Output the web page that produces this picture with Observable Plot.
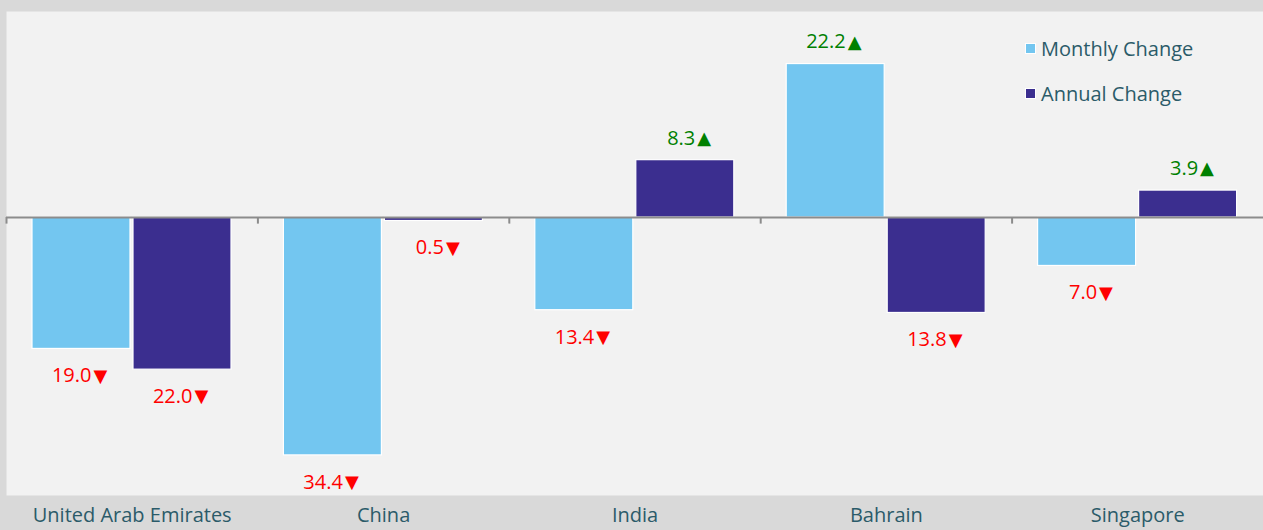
<!DOCTYPE html>
<html>
<head>
<meta charset="utf-8">
<script src="https://cdn.jsdelivr.net/npm/d3@7"></script>
<script src="https://cdn.jsdelivr.net/npm/@observablehq/plot@0.6"></script>
<style>
  html, body { margin: 0; padding: 0; background: #d9d9d9; }
  #wrap { position: relative; width: 1263px; height: 530px; font-family: "Open Sans", sans-serif; }
  #legend { position: absolute; left: 1025px; top: 33px; color: #2b5b69; font-size: 20px; }
  #legend .item { display: flex; align-items: center; height: 30px; margin-bottom: 15px; }
  #legend .sw { width: 9px; height: 9px; border: 1.5px solid #fff; margin-right: 5px; }
</style>
</head>
<body>
<div id="wrap"></div>
<script>
const countries = ["United Arab Emirates", "China", "India", "Bahrain", "Singapore"];
const seriesNames = ["Monthly Change", "Annual Change"];
const monthly = [-19.0, -34.4, -13.4, 22.2, -7.0];
const annual = [-22.0, -0.5, 8.3, -13.8, 3.9];
const colors = ["#73c6f0", "#3b2e8f"];

const rows = [];
countries.forEach((c, i) => {
  rows.push({country: c, series: seriesNames[0], value: monthly[i]});
  rows.push({country: c, series: seriesNames[1], value: annual[i]});
});

const numText = d => d3.format(".1f")(Math.abs(d.value));
const triText = d => (d.value < 0 ? "▼" : "▲");
const band = 1257 / countries.length;

function barMark(series, insetLeft, insetRight) {
  return Plot.barY(rows.filter(r => r.series === series), {
    x: "country", y: "value", fill: "series",
    stroke: "#ffffff", strokeWidth: 1.2,
    insetLeft, insetRight
  });
}
function labelMarks(series, dx) {
  const data = rows.filter(r => r.series === series);
  const out = [];
  for (const [subset, dy, fill] of [
    [data.filter(r => r.value < 0), 27, "#ff0000"],
    [data.filter(r => r.value >= 0), -22, "#008000"]
  ]) {
    out.push(Plot.text(subset, {x: "country", y: "value", text: numText, textAnchor: "end", dx: dx + 10, dy, fill, fontSize: 20}));
    out.push(Plot.text(subset, {x: "country", y: "value", text: triText, textAnchor: "start", dx: dx + 12, dy, fill, fontSize: 18, fontFamily: "DejaVu Sans"}));
  }
  return out;
}

const chart = Plot.plot({
  width: 1263,
  height: 530,
  marginTop: 11,
  marginBottom: 35,
  marginLeft: 6,
  marginRight: 0,
  style: {background: "#d9d9d9", fontFamily: "'Open Sans', sans-serif"},
  x: {domain: countries, padding: 0, round: false},
  y: {domain: [-40.2, 29.8], axis: null},
  color: {domain: seriesNames, range: colors},
  marks: [
    Plot.frame({fill: "#f2f2f2", stroke: null}),
    barMark(seriesNames[0], 26, band - 124),
    barMark(seriesNames[1], 127, 26.4),
    ...labelMarks(seriesNames[0], -50.7),
    ...labelMarks(seriesNames[1], 50.3),
    Plot.ruleY([0], {stroke: "#8c8c8c", strokeWidth: 2}),
    Plot.ruleX(countries, {x: d => d, dx: -band / 2, y1: 0, y2: -0.95, stroke: "#8c8c8c", strokeWidth: 2}),
    Plot.axisX({tickSize: 0, tickPadding: 12, fontSize: 20, fill: "#2b5b69", label: null})
  ]
});

const wrap = document.getElementById("wrap");
wrap.appendChild(chart);
const legend = document.createElement("div");
legend.id = "legend";
seriesNames.forEach((s, i) => {
  const item = document.createElement("div");
  item.className = "item";
  const sw = document.createElement("span");
  sw.className = "sw";
  sw.style.background = colors[i];
  const t = document.createElement("span");
  t.textContent = s;
  item.appendChild(sw);
  item.appendChild(t);
  legend.appendChild(item);
});
wrap.appendChild(legend);
</script>
</body>
</html>
